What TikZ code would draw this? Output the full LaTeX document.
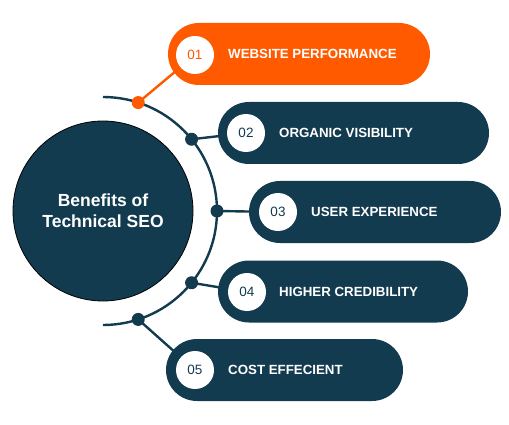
\documentclass[tikz,border=0pt]{standalone}
\usepackage{fontspec}
\setmainfont{Liberation Sans}
\usetikzlibrary{backgrounds,calc}
\definecolor{navy}{HTML}{133B4F}
\definecolor{orng}{HTML}{FF5A00}
\begin{document}
\begin{tikzpicture}[x=1pt,y=-1pt,
  pill/.style={draw=none, rounded corners=31pt, minimum height=62pt, inner sep=0pt},
  numc/.style={circle, fill=white, minimum size=38pt, inner sep=0pt, font=\fontsize{13.5}{15}\selectfont},
  lbl/.style={anchor=west, text=white, inner sep=0pt, font=\bfseries\fontsize{13.3}{15}\selectfont},
  dotn/.style={circle, minimum size=13pt, inner sep=0pt},
  conn/.style={line width=2.4pt}]
\useasboundingbox (0,0) rectangle (509,425);
\coordinate (C) at (103,211);
% main circle
\node[circle, fill=navy, draw=black, line width=0.8pt, minimum size=180pt, inner sep=0pt,
  text=white, align=center, font=\bfseries\fontsize{17.5}{21}\selectfont] (main) at (C) {Benefits of\\Technical SEO};
% arc
\draw[navy, line width=2.4pt] (103,97) arc[start angle=-90, end angle=90, radius=114];
% pills
\node[pill, fill=orng, minimum width=262pt] (p1) at (299,54) {};
\node[pill, fill=navy, minimum width=271pt] (p2) at (353.5,133) {};
\node[pill, fill=navy, minimum width=252pt] (p3) at (375,212) {};
\node[pill, fill=navy, minimum width=250pt] (p4) at (343,291.5) {};
\node[pill, fill=navy, minimum width=237pt] (p5) at (284.5,370) {};
% number circles
\node[numc, text=orng] (n1) at (195,55) {01};
\node[numc, text=navy] (n2) at (246,133) {02};
\node[numc, text=navy] (n3) at (278,212) {03};
\node[numc, text=navy] (n4) at (247,292) {04};
\node[numc, text=navy] (n5) at (195,370) {05};
% labels
\node[lbl] (l1) at (228,54) {WEBSITE PERFORMANCE};
\node[lbl] (l2) at (279,133) {ORGANIC VISIBILITY};
\node[lbl] (l3) at (311,212) {USER EXPERIENCE};
\node[lbl] (l4) at (279,292) {HIGHER CREDIBILITY};
\node[lbl] (l5) at (228,370) {COST EFFECIENT};
% dots
\node[dotn, fill=orng] (d1) at ($(C)+(-72:114)$) {};
\node[dotn, fill=navy] (d2) at ($(C)+(-39:114)$) {};
\node[dotn, fill=navy] (d3) at ($(C)+(0:114)$) {};
\node[dotn, fill=navy] (d4) at ($(C)+(39:114)$) {};
\node[dotn, fill=navy] (d5) at ($(C)+(72:114)$) {};
\begin{pgfonlayer}{background}
\draw[conn, orng] (d1.center) -- (n1.center);
\draw[conn, navy] (d2.center) -- (n2.center);
\draw[conn, navy] (d3.center) -- (n3.center);
\draw[conn, navy] (d4.center) -- (n4.center);
\draw[conn, navy] (d5.center) -- (n5.center);
\end{pgfonlayer}
\end{tikzpicture}
\end{document}
